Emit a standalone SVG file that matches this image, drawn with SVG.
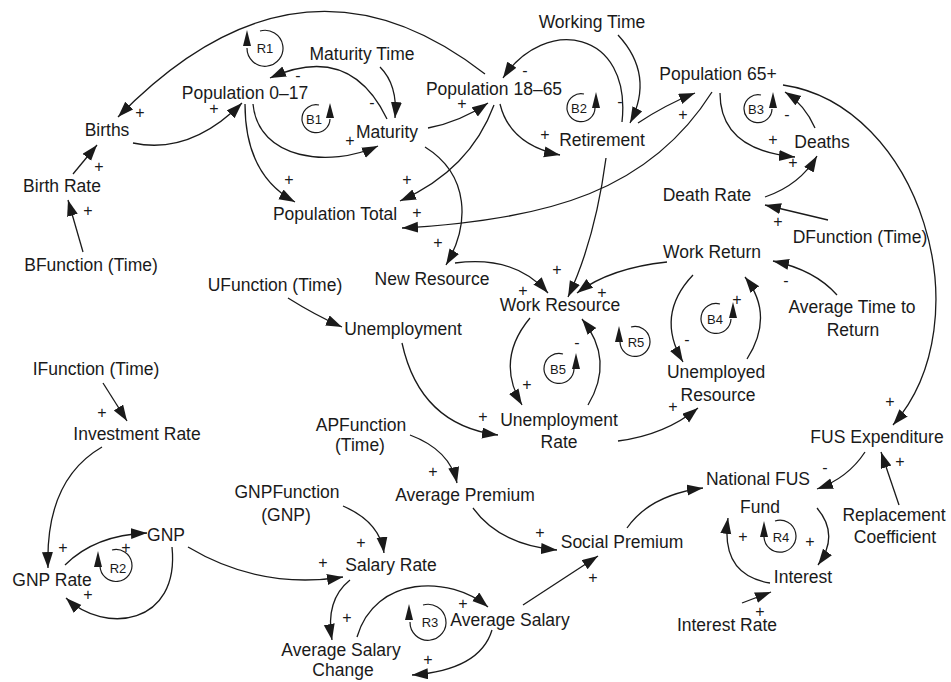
<svg xmlns="http://www.w3.org/2000/svg" width="951" height="682" viewBox="0 0 951 682">
<style>
text{font-family:"Liberation Sans",Arial,sans-serif;fill:#1a1a1a}
.n{font-size:17.5px;text-anchor:middle}
.s{font-size:16px;text-anchor:middle}
.l{font-size:13px;text-anchor:middle}
.c{fill:none;stroke:#1a1a1a;stroke-width:1.3;marker-end:url(#ah)}
.la{fill:none;stroke:#1a1a1a;stroke-width:1.2}
.lh{fill:#1a1a1a}
</style>
<defs>
<marker id="ah" markerWidth="17" markerHeight="12" refX="16" refY="5.5" orient="auto" markerUnits="userSpaceOnUse"><path d="M0,0 L16,5.5 L0,11 z" fill="#1a1a1a"/></marker>
</defs>
<rect width="951" height="682" fill="#fff"/>
<g id="connectors">
<path class="c" d="M485,74 Q300,-70 118,117"/>
<path class="c" d="M133,143 Q190,155 242,103"/>
<path class="c" d="M73,174 L97,145"/>
<path class="c" d="M83,252 L68,200"/>
<path class="c" d="M253,104 C258,160 330,168 378,146"/>
<path class="c" d="M387,119 Q350,42 270,78"/>
<path class="c" d="M380,67 Q398,85 395,118"/>
<path class="c" d="M428,128 Q460,122 488,103"/>
<path class="c" d="M425,147 C470,175 470,225 446,265"/>
<path class="c" d="M494,105 Q470,170 400,201"/>
<path class="c" d="M245,104 Q245,175 295,202"/>
<path class="c" d="M712,92 C650,190 550,220 402,228"/>
<path class="c" d="M500,104 Q510,145 560,155"/>
<path class="c" d="M622,122 C632,30 545,15 503,78"/>
<path class="c" d="M618,35 Q655,75 630,123"/>
<path class="c" d="M638,123 Q665,105 695,93"/>
<path class="c" d="M606,158 Q595,240 568,297"/>
<path class="c" d="M720,93 Q720,150 795,157"/>
<path class="c" d="M815,128 Q805,105 785,92"/>
<path class="c" d="M765,197 Q800,185 817,156"/>
<path class="c" d="M828,220 L765,205"/>
<path class="c" d="M783,85 C920,105 985,320 893,425"/>
<path class="c" d="M455,263 Q515,255 548,293"/>
<path class="c" d="M667,262 Q610,268 577,293"/>
<path class="c" d="M530,318 Q495,360 522,405"/>
<path class="c" d="M588,405 Q615,360 582,319"/>
<path class="c" d="M288,298 Q315,315 342,327"/>
<path class="c" d="M402,343 Q420,425 498,435"/>
<path class="c" d="M618,441 Q665,435 698,408"/>
<path class="c" d="M693,275 Q655,315 683,362"/>
<path class="c" d="M747,359 Q775,315 745,277"/>
<path class="c" d="M837,295 Q815,270 773,261"/>
<path class="c" d="M103,383 L127,421"/>
<path class="c" d="M102,447 Q45,480 48,568"/>
<path class="c" d="M65,565 Q95,535 147,533"/>
<path class="c" d="M172,547 C180,625 105,635 66,598"/>
<path class="c" d="M188,547 Q260,590 343,577"/>
<path class="c" d="M343,506 Q380,522 384,553"/>
<path class="c" d="M350,580 Q325,600 332,640"/>
<path class="c" d="M357,637 C375,575 450,575 488,607"/>
<path class="c" d="M492,630 Q480,670 412,675"/>
<path class="c" d="M523,605 L598,556"/>
<path class="c" d="M473,508 Q500,545 557,550"/>
<path class="c" d="M410,435 Q450,450 457,483"/>
<path class="c" d="M627,528 Q650,495 703,488"/>
<path class="c" d="M865,452 Q848,478 817,489"/>
<path class="c" d="M899,505 L881,452"/>
<path class="c" d="M817,508 Q840,535 818,565"/>
<path class="c" d="M770,583 Q720,575 728,518"/>
<path class="c" d="M742,603 L771,592"/>
</g>
<g id="polarities">
<text class="s" x="140" y="118">+</text>
<text class="s" x="214" y="114">+</text>
<text class="s" x="99" y="172">+</text>
<text class="s" x="88" y="216">+</text>
<text class="s" x="350" y="146">+</text>
<text class="s" x="298" y="81">-</text>
<text class="s" x="372" y="108">-</text>
<text class="s" x="462" y="109">+</text>
<text class="s" x="438" y="248">+</text>
<text class="s" x="407" y="185">+</text>
<text class="s" x="289" y="185">+</text>
<text class="s" x="417" y="218">+</text>
<text class="s" x="545" y="140">+</text>
<text class="s" x="525" y="76">-</text>
<text class="s" x="620" y="107">-</text>
<text class="s" x="683" y="120">+</text>
<text class="s" x="557" y="275">+</text>
<text class="s" x="773" y="145">+</text>
<text class="s" x="787" y="120">-</text>
<text class="s" x="793" y="168">+</text>
<text class="s" x="778" y="227">+</text>
<text class="s" x="890" y="407">+</text>
<text class="s" x="523" y="296">+</text>
<text class="s" x="602" y="298">+</text>
<text class="s" x="527" y="390">+</text>
<text class="s" x="577" y="348">-</text>
<text class="s" x="483" y="422">+</text>
<text class="s" x="673" y="412">+</text>
<text class="s" x="687" y="345">-</text>
<text class="s" x="737" y="305">+</text>
<text class="s" x="786" y="286">-</text>
<text class="s" x="102" y="418">+</text>
<text class="s" x="63" y="553">+</text>
<text class="s" x="126" y="553">+</text>
<text class="s" x="88" y="600">+</text>
<text class="s" x="323" y="568">+</text>
<text class="s" x="361" y="548">+</text>
<text class="s" x="347" y="623">+</text>
<text class="s" x="463" y="609">+</text>
<text class="s" x="428" y="665">+</text>
<text class="s" x="593" y="583">+</text>
<text class="s" x="540" y="538">+</text>
<text class="s" x="433" y="477">+</text>
<text class="s" x="825" y="473">-</text>
<text class="s" x="900" y="467">+</text>
<text class="s" x="810" y="547">+</text>
<text class="s" x="743" y="542">+</text>
<text class="s" x="760" y="617">+</text>
</g>
<g id="loops">
<g id="loop-R1"><path class="la" d="M260,31 A18,18 0 1 1 247,48"/><path class="lh" d="M247,30 L243,46 L251,46 z"/><text class="l" x="265" y="53">R1</text></g>
<g id="loop-B1"><path class="la" d="M319,105 A14,14 0 1 0 330,119"/><path class="lh" d="M330,103 L326,118 L334,118 z"/><text class="l" x="314" y="124">B1</text></g>
<g id="loop-B2"><path class="la" d="M584,94 A14,14 0 1 0 595,108"/><path class="lh" d="M596,92 L592,108 L600,108 z"/><text class="l" x="579" y="113">B2</text></g>
<g id="loop-B3"><path class="la" d="M761,95 A14,14 0 1 0 772,109"/><path class="lh" d="M773,92 L769,108 L777,108 z"/><text class="l" x="756" y="114">B3</text></g>
<g id="loop-B4"><path class="la" d="M720,304 A15,15 0 1 0 731,319"/><path class="lh" d="M733,302 L729,318 L737,318 z"/><text class="l" x="715" y="324">B4</text></g>
<g id="loop-B5"><path class="la" d="M563,354 A15,15 0 1 0 574,369"/><path class="lh" d="M576,353 L572,369 L580,369 z"/><text class="l" x="558" y="374">B5</text></g>
<g id="loop-R5"><path class="la" d="M631,327 A15,15 0 1 1 620,342"/><path class="lh" d="M619,326 L615,342 L623,342 z"/><text class="l" x="636" y="347">R5</text></g>
<g id="loop-R2"><path class="la" d="M112,550 A16,16 0 1 1 100,566"/><path class="lh" d="M98,551 L94,567 L102,567 z"/><text class="l" x="118" y="573">R2</text></g>
<g id="loop-R3"><path class="la" d="M423,605 A18,18 0 1 1 410,622"/><path class="lh" d="M409,604 L405,620 L413,620 z"/><text class="l" x="430" y="627">R3</text></g>
<g id="loop-R4"><path class="la" d="M775,521 A16,16 0 1 1 764,537"/><path class="lh" d="M764,521 L760,537 L768,537 z"/><text class="l" x="781" y="542">R4</text></g>
</g>
<g id="births"><text class="n" x="107" y="136">Births</text></g>
<g id="birth-rate"><text class="n" x="62" y="192">Birth Rate</text></g>
<g id="bfunction"><text class="n" x="91" y="271">BFunction (Time)</text></g>
<g id="pop-0-17"><text class="n" x="245" y="99">Population 0–17</text></g>
<g id="maturity-time"><text class="n" x="362" y="60">Maturity Time</text></g>
<g id="maturity"><text class="n" x="387" y="138">Maturity</text></g>
<g id="pop-18-65"><text class="n" x="494" y="95">Population 18–65</text></g>
<g id="working-time"><text class="n" x="592" y="28">Working Time</text></g>
<g id="retirement"><text class="n" x="602" y="146">Retirement</text></g>
<g id="pop-65"><text class="n" x="718" y="80">Population 65+</text></g>
<g id="deaths"><text class="n" x="822" y="148">Deaths</text></g>
<g id="death-rate"><text class="n" x="707" y="201">Death Rate</text></g>
<g id="dfunction"><text class="n" x="860" y="243">DFunction (Time)</text></g>
<g id="pop-total"><text class="n" x="335" y="220">Population Total</text></g>
<g id="new-resource"><text class="n" x="432" y="285">New Resource</text></g>
<g id="ufunction"><text class="n" x="275" y="291">UFunction (Time)</text></g>
<g id="unemployment"><text class="n" x="403" y="335">Unemployment</text></g>
<g id="work-resource"><text class="n" x="560" y="311">Work Resource</text></g>
<g id="work-return"><text class="n" x="712" y="258">Work Return</text></g>
<g id="avg-time-return"><text class="n" x="852" y="313">Average Time to</text><text class="n" x="853" y="336">Return</text></g>
<g id="unemployed-resource"><text class="n" x="716" y="378">Unemployed</text><text class="n" x="718" y="401">Resource</text></g>
<g id="unemployment-rate"><text class="n" x="559" y="426">Unemployment</text><text class="n" x="559" y="448">Rate</text></g>
<g id="ifunction"><text class="n" x="96" y="375">IFunction (Time)</text></g>
<g id="investment-rate"><text class="n" x="137" y="440">Investment Rate</text></g>
<g id="apfunction"><text class="n" x="361" y="431">APFunction</text><text class="n" x="360" y="451">(Time)</text></g>
<g id="average-premium"><text class="n" x="465" y="501">Average Premium</text></g>
<g id="gnpfunction"><text class="n" x="287" y="498">GNPFunction</text><text class="n" x="286" y="521">(GNP)</text></g>
<g id="gnp"><text class="n" x="166" y="541">GNP</text></g>
<g id="gnp-rate"><text class="n" x="52" y="586">GNP Rate</text></g>
<g id="salary-rate"><text class="n" x="391" y="571">Salary Rate</text></g>
<g id="social-premium"><text class="n" x="622" y="548">Social Premium</text></g>
<g id="average-salary"><text class="n" x="510" y="626">Average Salary</text></g>
<g id="avg-salary-change"><text class="n" x="341" y="656">Average Salary</text><text class="n" x="343" y="676">Change</text></g>
<g id="fus-expenditure"><text class="n" x="877" y="443">FUS Expenditure</text></g>
<g id="national-fus-fund"><text class="n" x="758" y="485">National FUS</text><text class="n" x="760" y="513">Fund</text></g>
<g id="replacement-coefficient"><text class="n" x="894" y="521">Replacement</text><text class="n" x="895" y="543">Coefficient</text></g>
<g id="interest"><text class="n" x="803" y="583">Interest</text></g>
<g id="interest-rate"><text class="n" x="727" y="631">Interest Rate</text></g>
</svg>
